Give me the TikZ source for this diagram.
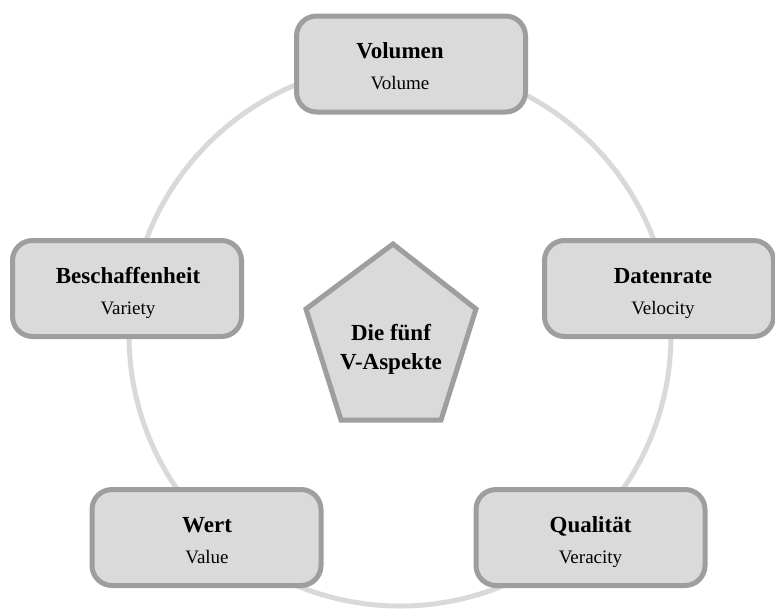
\documentclass[tikz,border=0pt]{standalone}
\usepackage{fontspec}
\setmainfont{Liberation Serif}
\definecolor{boxfill}{HTML}{DADADA}
\definecolor{boxline}{HTML}{9E9E9E}
\definecolor{ringline}{HTML}{D9D9D9}
\begin{document}
\begin{tikzpicture}[x=1pt,y=-1pt,
  vbox/.style={draw=boxline, fill=boxfill, line width=5pt, rounded corners=20pt,
    minimum width=229pt, minimum height=96pt, inner sep=0pt},
  titletext/.style={font=\fontsize{23}{27}\selectfont\bfseries, anchor=base, inner sep=0pt},
  subtext/.style={font=\fontsize{19}{23}\selectfont, anchor=base, inner sep=0pt},
  ring/.style={draw=ringline, line width=5pt},
  hub/.style={draw=boxline, fill=boxfill, line width=5pt, line join=miter}
]
\useasboundingbox (0,0) rectangle (775,608);

% background ring
\node[ring, circle, minimum size=542pt, inner sep=0pt] (ring) at (400,335) {};

% the five aspect boxes (\d shifts the text sideways inside its box)
\foreach \n/\x/\y/\d/\t/\s in {
  vol/411/64/-11/Volumen/Volume,
  bes/127/288.5/1/Beschaffenheit/Variety,
  dat/659/288.5/4/Datenrate/Velocity,
  wer/206.5/537.5/0.5/Wert/Value,
  qua/590.5/537.5/0/Qualität/Veracity} {
  \node[vbox] (\n) at (\x,\y) {};
  \node[titletext] (\n-t) at ([xshift=\d pt,yshift=5.5pt]\n.center) {\t};
  \node[subtext] (\n-s) at ([xshift=\d pt,yshift=-25.5pt]\n.center) {\s};
}

% central pentagon
\coordinate (p1) at (393,244);
\coordinate (p2) at (476,309);
\coordinate (p3) at (441,420);
\coordinate (p4) at (341,420);
\coordinate (p5) at (306,309);
\draw[hub] (p1) -- (p2) -- (p3) -- (p4) -- (p5) -- cycle;
\node[titletext] (hub-a) at (391,340) {Die fünf};
\node[titletext] (hub-b) at (391,369) {V-Aspekte};
\end{tikzpicture}
\end{document}
